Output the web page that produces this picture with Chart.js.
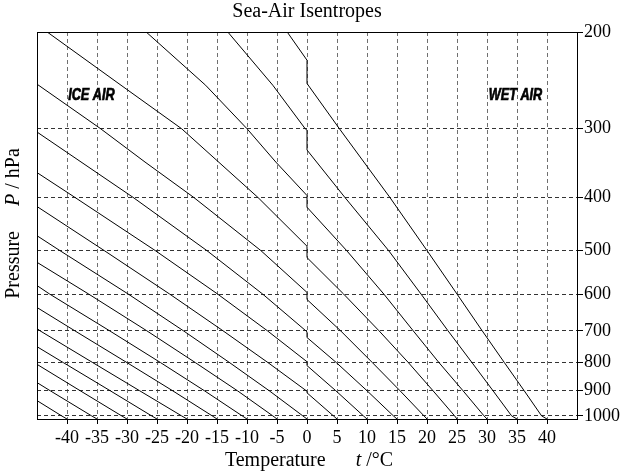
<!DOCTYPE html>
<html>
<head>
<meta charset="utf-8">
<title>Sea-Air Isentropes</title>
<script src="https://cdn.jsdelivr.net/npm/chart.js@4.4.1/dist/chart.umd.min.js"></script>
<style>
  html, body { margin: 0; padding: 0; background: #fff; }
  #wrap { width: 624px; height: 476px; }
</style>
</head>
<body>
<div id="wrap"><canvas id="isentropeChart" width="624" height="476"></canvas></div>
<script>
// --- Data ---
// every isentrope is a list of [temperature °C, pressure hPa] from the sea surface upward
const surfaceTemps = [-40, -35, -30, -25, -20, -15, -10, -5, 0, 5, 10, 15, 20, 25, 30, 35, 40];

const isoM40 = [[-40, 1013.25], [-40.9, 1000], [-45, 938]];
const isoM35 = [[-35, 1013.25], [-35.9, 1000], [-42.8, 900], [-45, 869.8]];
const isoM30 = [[-30, 1013.25], [-30.9, 1000], [-37.8, 900], [-45, 805.7]];
const isoM25 = [[-25, 1013.25], [-25.9, 1000], [-32.8, 900], [-40.6, 800], [-45, 748.2]];
const isoM20 = [[-20, 1013.25], [-20.9, 1000], [-27.9, 900], [-35.7, 800], [-44.5, 700], [-45, 693.2]];
const isoM15 = [[-15, 1013.25], [-15.8, 1000], [-22.4, 900], [-30.0, 800], [-38.7, 700], [-45, 634.9]];
const isoM10 = [[-10, 1013.25], [-10.8, 1000], [-17.1, 900], [-24.4, 800], [-32.9, 700], [-42.9, 600], [-45, 579.1]];
const isoM5 = [[-5, 1013.25], [-5.7, 1000], [-11.6, 900], [-18.6, 800], [-26.7, 700], [-36.4, 600], [-45, 525.3]];
const iso0 = [[0, 1013.25], [-0.7, 1000], [-6.3, 900], [-12.9, 800], [-20.6, 700], [-29.8, 600], [-41.2, 500], [-45, 469.9]];
const iso5 = [[5, 1013.25], [4.4, 1000], [0, 908], [0, 902], [-6.5, 800], [-14.0, 700], [-22.9, 600], [-33.8, 500], [-45, 415.7]];
const iso10 = [[10, 1013.25], [9.4, 1000], [4.8, 900], [0, 810], [0, 797], [-6.6, 700], [-14.9, 600], [-25.3, 500], [-38.7, 400], [-45, 360.6]];
const iso15 = [[15, 1013.25], [14.4, 1000], [10.0, 900], [4.9, 800], [0, 720], [0, 703], [-7.4, 600], [-16.7, 500], [-29.0, 400], [-45, 304.2]];
const iso20 = [[20, 1013.25], [19.5, 1000], [15.5, 900], [10.9, 800], [5.6, 700], [0, 614], [0, 596], [-7.7, 500], [-18.9, 400], [-27.0, 345], [-34.4, 300], [-45, 248.9]];
const iso25 = [[25, 1013.25], [24.6, 1000], [21.0, 900], [16.9, 800], [12.0, 700], [6.1, 600], [0, 515], [0, 491], [-8.2, 400], [-20.9, 300], [-31.0, 250], [-43.3, 200]];
const iso30 = [[30, 1013.25], [29.5, 1000], [26.0, 900], [22.0, 800], [17.7, 700], [12.8, 600], [6.6, 500], [0, 417], [0, 397], [-5.2, 345], [-10.0, 300], [-16.9, 250], [-26.8, 200]];
const iso35 = [[35, 1013.25], [34.1, 1000], [31.0, 900], [27.5, 800], [23.5, 700], [19.0, 600], [13.6, 500], [6.3, 400], [0, 328], [0, 302], [-0.3, 300], [-5.7, 250], [-13.2, 200]];
const iso40 = [[40, 1013.25], [39.1, 1000], [36.2, 900], [32.9, 800], [29.2, 700], [25.0, 600], [20.0, 500], [13.8, 400], [5.4, 300], [0, 248.2], [0, 225.1], [-3.3, 200]];

const isentropes = [isoM40, isoM35, isoM30, isoM25, isoM20, isoM15, isoM10, isoM5,
                    iso0, iso5, iso10, iso15, iso20, iso25, iso30, iso35, iso40];

// axes
const xTicks = [-40, -35, -30, -25, -20, -15, -10, -5, 0, 5, 10, 15, 20, 25, 30, 35, 40];
const yTicks = [200, 300, 400, 500, 600, 700, 800, 900, 1000];
const tRange = [-45, 45];
const pRange = [200, 1013.25];

// region labels (text, temperature at left edge, pressure at baseline)
const regionNames = ['ICE AIR', 'WET AIR'];
const regionT = [-39.8, 30.3];
const regionP = [266, 266];

const serif = '"Liberation Serif", "Times New Roman", serif';

// --- extra drawing: frame, title, axis titles with italic symbols, region labels ---
function measureParts(ctx, parts, size) {
    let w = 0;
    parts.forEach(p => {
        ctx.font = (p.italic ? 'italic ' : '') + size + 'px ' + serif;
        w += ctx.measureText(p.text).width;
    });
    return w;
}

function paintParts(ctx, parts, size, x0, y0) {
    let x = x0;
    parts.forEach(p => {
        ctx.font = (p.italic ? 'italic ' : '') + size + 'px ' + serif;
        ctx.fillText(p.text, x, y0);
        x += ctx.measureText(p.text).width;
    });
}

const decorations = {
    id: 'decorations',
    afterDraw(chart) {
        const { ctx, chartArea: a, scales: { x, y } } = chart;
        ctx.save();

        // frame round the plot
        ctx.strokeStyle = '#000';
        ctx.lineWidth = 1;
        ctx.strokeRect(Math.round(a.left) + 0.5, Math.round(a.top) + 0.5,
                       Math.round(a.right - a.left), Math.round(a.bottom - a.top));

        ctx.fillStyle = '#000';
        ctx.textBaseline = 'middle';

        // title
        ctx.textAlign = 'center';
        ctx.font = '20px ' + serif;
        ctx.fillText('Sea-Air Isentropes', (a.left + a.right) / 2, 12);

        // x axis title
        ctx.textAlign = 'left';
        const xParts = [
            { text: 'Temperature      ', italic: false },
            { text: 't', italic: true },
            { text: ' /°C', italic: false }
        ];
        const xw = measureParts(ctx, xParts, 20);
        paintParts(ctx, xParts, 20, (a.left + a.right) / 2 + 2 - xw / 2, 461);

        // y axis title, rotated
        const yParts = [
            { text: 'Pressure     ', italic: false },
            { text: 'P', italic: true },
            { text: ' / hPa', italic: false }
        ];
        const yw = measureParts(ctx, yParts, 20);
        ctx.save();
        ctx.translate(14, (a.top + a.bottom) / 2 - 2);
        ctx.rotate(-Math.PI / 2);
        paintParts(ctx, yParts, 20, -yw / 2, 0);
        ctx.restore();

        // region labels, heavy narrow oblique
        ctx.textBaseline = 'alphabetic';
        ctx.font = 'bold italic 16px "Liberation Sans", Arial, sans-serif';
        ctx.strokeStyle = '#000';
        ctx.lineWidth = 0.7;
        regionNames.forEach((name, i) => {
            const px = x.getPixelForValue(regionT[i]);
            const py = y.getPixelForValue(regionP[i]);
            ctx.save();
            ctx.translate(px, py);
            ctx.scale(0.79, 1);
            ctx.fillText(name, 0, 0);
            ctx.strokeText(name, 0, 0);
            ctx.restore();
        });

        ctx.restore();
    }
};

const datasets = isentropes.map((curve, i) => ({
    label: 't0 = ' + surfaceTemps[i] + ' °C',
    data: curve.map(([t, p]) => ({ x: t, y: p })),
    showLine: true,
    borderColor: '#000',
    borderWidth: 1,
    pointRadius: 0,
    tension: 0
}));

const tickFont = { family: serif, size: 18 };

new Chart(document.getElementById('isentropeChart'), {
    type: 'scatter',
    data: { datasets },
    options: {
        responsive: false,
        animation: false,
        devicePixelRatio: 1,
        layout: { padding: { left: 37, top: 32, right: 0, bottom: 0 } },
        plugins: {
            legend: { display: false },
            tooltip: { enabled: false },
            title: { display: false }
        },
        scales: {
            x: {
                type: 'linear',
                min: tRange[0],
                max: tRange[1],
                afterBuildTicks: s => { s.ticks = xTicks.map(v => ({ value: v })); },
                afterFit: s => { s.height = 57; },
                grid: { color: '#6f6f6f', lineWidth: 1, tickLength: 5, tickColor: '#000', tickWidth: 1 },
                border: { display: false, dash: [4, 3] },
                ticks: { color: '#000', font: tickFont, padding: 3, maxRotation: 0, autoSkip: false,
                         callback: v => String(v) }
            },
            y: {
                type: 'logarithmic',
                position: 'right',
                reverse: true,
                min: pRange[0],
                max: pRange[1],
                afterBuildTicks: s => { s.ticks = yTicks.map(v => ({ value: v })); },
                afterFit: s => { s.width = 47; },
                grid: { color: '#333', lineWidth: 1, tickLength: 6, tickColor: '#000', tickWidth: 1 },
                border: { display: false, dash: [4, 3] },
                ticks: { color: '#000', font: tickFont, padding: 1, autoSkip: false,
                         callback: v => String(v) }
            }
        }
    },
    plugins: [decorations]
});
</script>
</body>
</html>
